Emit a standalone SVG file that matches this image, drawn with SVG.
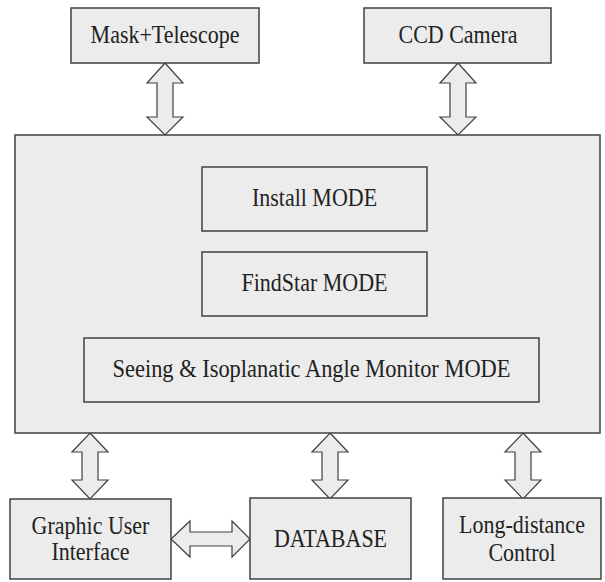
<svg xmlns="http://www.w3.org/2000/svg" width="605" height="582" viewBox="0 0 605 582">
<defs>
<style>
.box{fill:#ececec;stroke:#404040;stroke-width:1.5}
.arr{fill:#ececec;stroke:#404040;stroke-width:1.2;stroke-linejoin:miter}
.t{font-family:'Liberation Serif','Times New Roman',serif;font-size:22px;fill:#222;text-anchor:middle}
</style>
</defs>
<rect x="0" y="0" width="605" height="582" fill="#ffffff"/>
<g id="connectors">
<polygon class="arr" points="165,63 183,83 173,83 173,117 183,117 165,135 147,117 157,117 157,83 147,83"/>
<polygon class="arr" points="458,63 476,83 466,83 466,117 476,117 458,135 440,117 450,117 450,83 440,83"/>
<polygon class="arr" points="90,433 108,452 98,452 98,480 108,480 90,499 72,480 82,480 82,452 72,452"/>
<polygon class="arr" points="330,433 348,452 338,452 338,480 348,480 330,499 312,480 322,480 322,452 312,452"/>
<polygon class="arr" points="523,433 541,452 531,452 531,480 541,480 523,499 505,480 515,480 515,452 505,452"/>
<polygon class="arr" points="171,539 190,521 190,532 232,532 232,521 250,539 232,557 232,546 190,546 190,557"/>
</g>
<g id="mask-telescope"><rect class="box" x="71" y="8" width="188" height="55"/><text class="t" transform="translate(165,43) scale(1,1.12)">Mask+Telescope</text></g>
<g id="ccd-camera"><rect class="box" x="364" y="8" width="187" height="55"/><text class="t" transform="translate(458,43) scale(1,1.12)">CCD Camera</text></g>
<g id="main"><rect class="box" x="15" y="135" width="585" height="298"/></g>
<g id="install-mode"><rect class="box" x="202" y="167" width="225" height="64"/><text class="t" transform="translate(314.5,206) scale(1,1.12)">Install MODE</text></g>
<g id="findstar-mode"><rect class="box" x="202" y="252" width="225" height="64"/><text class="t" transform="translate(314.5,291) scale(1,1.12)">FindStar MODE</text></g>
<g id="seeing-mode"><rect class="box" x="84" y="338" width="455" height="64"/><text class="t" transform="translate(311.5,377) scale(1.02,1.12)">Seeing &amp; Isoplanatic Angle Monitor MODE</text></g>
<g id="gui"><rect class="box" x="10" y="499" width="161" height="80"/><text class="t" transform="translate(90.5,534) scale(1,1.12)">Graphic User</text><text class="t" transform="translate(90.5,560) scale(1,1.12)">Interface</text></g>
<g id="database"><rect class="box" x="250" y="498" width="161" height="81"/><text class="t" transform="translate(330.5,547) scale(1,1.12)">DATABASE</text></g>
<g id="long-distance"><rect class="box" x="443" y="498" width="158" height="81"/><text class="t" transform="translate(522,533) scale(1,1.12)">Long-distance</text><text class="t" transform="translate(522,561) scale(1,1.12)">Control</text></g>
</svg>
